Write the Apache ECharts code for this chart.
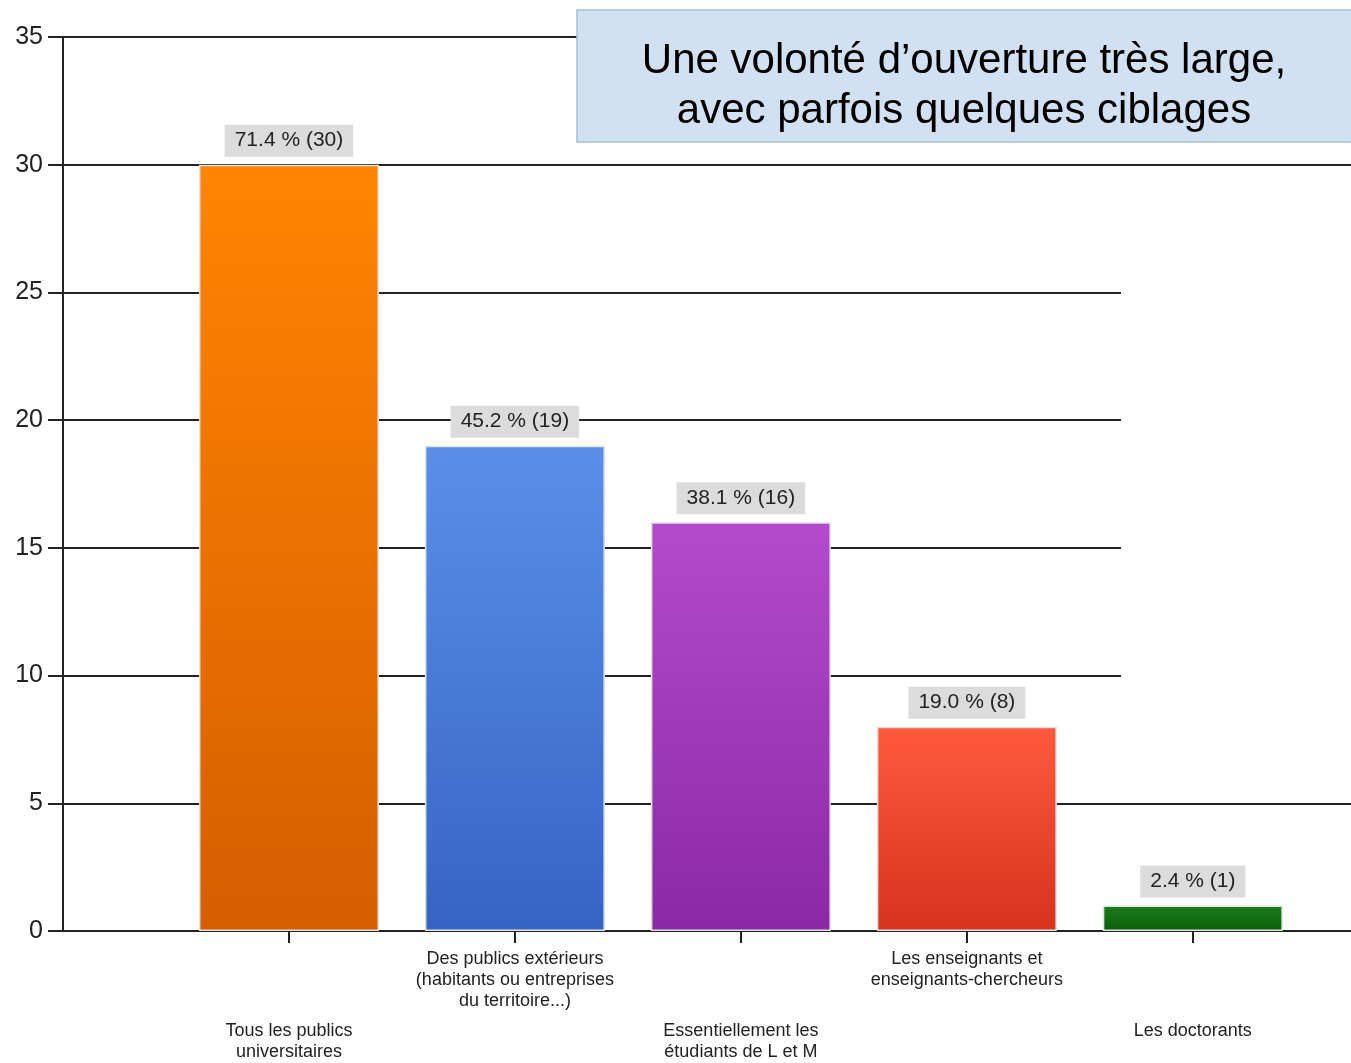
<!DOCTYPE html>
<html>
<head>
<meta charset="utf-8">
<script src="https://cdn.jsdelivr.net/npm/echarts@6/dist/echarts.min.js"></script>
<style>
  html, body { margin: 0; padding: 0; background: #fff; }
  #main_charts { width: 1351px; height: 1063px; }
</style>
</head>
<body>
<div id="main_charts"></div>
<script>
  var categories = [
    'Tous les publics\nuniversitaires',
    'Des publics extérieurs\n(habitants ou entreprises\ndu territoire...)',
    'Essentiellement les\nétudiants de L et M',
    'Les enseignants et\nenseignants-chercheurs',
    'Les doctorants'
  ];
  var counts = [30, 19, 16, 8, 1];
  var percents = ['71.4', '45.2', '38.1', '19.0', '2.4'];
  var yTicks = [0, 5, 10, 15, 20, 25, 30, 35];

  // couleurs haut / bas de chaque barre
  var gradients = [
    ['#ff8502', '#d75d00'],
    ['#5b8eea', '#3565c4'],
    ['#b44ace', '#8b29a5'],
    ['#ff5a3e', '#d6331d'],
    ['#1c7e1c', '#0a5f0a']
  ];

  var myChart = echarts.init(document.getElementById('main_charts'));

  var barData = [];
  for (var i = 0; i < counts.length; i++) {
    barData.push({
      value: [i + 1, counts[i]],
      itemStyle: {
        color: new echarts.graphic.LinearGradient(0, 0, 0, 1, [
          { offset: 0, color: gradients[i][0] },
          { offset: 1, color: gradients[i][1] }
        ])
      }
    });
  }

  var option = {
    animation: false,
    grid: { left: 63, right: 0, top: 37, bottom: 132, outerBoundsMode: 'none' },
    xAxis: {
      type: 'value',
      min: 0,
      max: 5.7,
      interval: 1,
      splitLine: { show: false },
      axisLine: { show: true, lineStyle: { color: '#222', width: 2 } },
      axisTick: { show: true, length: 12, lineStyle: { color: '#222', width: 2 } },
      axisLabel: {
        margin: 18,
        showMinLabel: false,
        showMaxLabel: false,
        color: '#222',
        fontFamily: 'Liberation Sans',
        fontSize: 18,
        lineHeight: 21,
        formatter: function (v) {
          if (v < 1 || v > 5 || v !== Math.round(v)) return '';
          var lines = categories[v - 1].split('\n');
          var s = lines.map(function (l) { return '{t|' + l + '}'; }).join('\n');
          if (v % 2 === 1) s = '{sp| }\n' + s;
          return s;
        },
        rich: {
          t: { fontSize: 18, lineHeight: 21, color: '#222', fontFamily: 'Liberation Sans' },
          sp: { fontSize: 10, lineHeight: 72 }
        }
      }
    },
    yAxis: {
      type: 'value',
      min: yTicks[0],
      max: yTicks[yTicks.length - 1],
      interval: 5,
      axisLine: { show: true, lineStyle: { color: '#222', width: 2 } },
      axisTick: { show: true, length: 15, lineStyle: { color: '#222', width: 2 } },
      axisLabel: { margin: 20, color: '#222', fontSize: 25, fontFamily: 'Liberation Sans' },
      splitLine: { show: true, lineStyle: { color: '#222', width: 2 } }
    },
    series: [{
      type: 'bar',
      barWidth: 180,
      data: barData,
      itemStyle: { borderColor: '#e2e2e2', borderWidth: 1.5 },
      label: {
        show: true,
        position: 'top',
        distance: 8,
        color: '#222',
        fontSize: 21,
        fontFamily: 'Liberation Sans',
        backgroundColor: '#dcdcdc',
        padding: [5, 10, 6, 10],
        formatter: function (p) {
          return percents[p.dataIndex] + ' % (' + counts[p.dataIndex] + ')';
        }
      },
      z: 3
    }],
    graphic: [
      {
        type: 'rect',
        z: 10,
        shape: { x: 1121, y: 200, width: 240, height: 570 },
        style: { fill: '#fff' }
      },
      {
        type: 'rect',
        z: 20,
        shape: { x: 577, y: 10, width: 800, height: 132 },
        style: { fill: '#d2e1f2', stroke: '#a8bed8', lineWidth: 1.5 }
      },
      {
        type: 'text',
        z: 21,
        x: 964,
        y: 86,
        style: {
          text: 'Une volonté d’ouverture très large,\navec parfois quelques ciblages',
          font: '42px "Liberation Sans"',
          lineHeight: 50,
          fill: '#000',
          align: 'center',
          verticalAlign: 'middle'
        }
      }
    ]
  };

  myChart.setOption(option);
</script>
</body>
</html>
